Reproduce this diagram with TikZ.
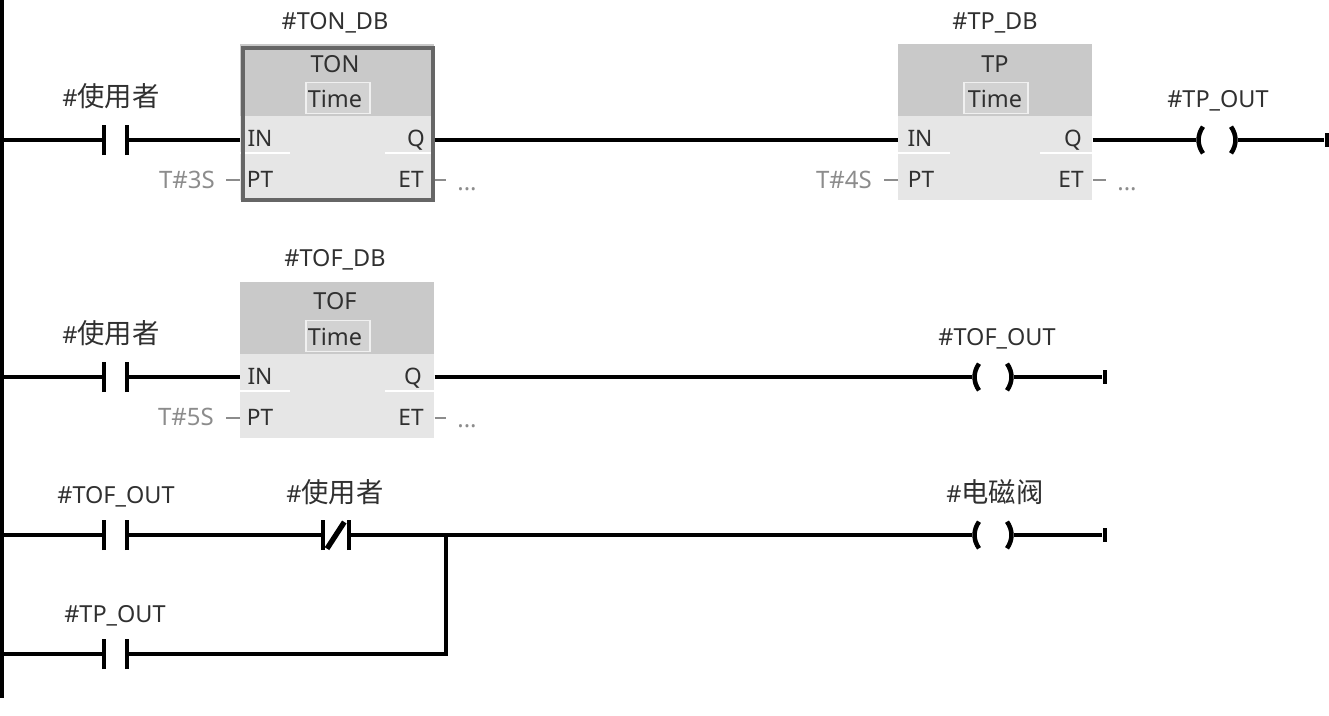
\documentclass[tikz,border=0pt]{standalone}
\usepackage{fontspec}
\setmainfont{Noto Sans}
\newfontfamily\cjk{Noto Sans CJK SC}
\newcommand{\cjkbig}[1]{{\cjk\fontsize{20.5pt}{22pt}\selectfont #1}}
\definecolor{ink}{HTML}{303030}
\definecolor{soft}{HTML}{8C8C8C}
\definecolor{head}{HTML}{C9C9C9}
\definecolor{body}{HTML}{E6E6E6}
\definecolor{frame}{HTML}{666666}
\tikzset{
  wire/.style={line width=3pt,black},
  thinwire/.style={line width=2.2pt,soft},
  txt/.style={inner sep=0pt,anchor=base,font=\fontsize{17.6pt}{20pt}\selectfont,text=ink},
  pin/.style={txt,font=\fontsize{17pt}{20pt}\selectfont},
  grey/.style={txt,text=soft,font=\fontsize{18pt}{20pt}\selectfont},
  nocontact/.style={minimum width=20.25pt,minimum height=22.5pt,inner sep=0pt,
    path picture={\draw[line width=3pt,black]
      ([xshift=1.5pt]path picture bounding box.south west)--([xshift=1.5pt]path picture bounding box.north west)
      ([xshift=-1.5pt]path picture bounding box.south east)--([xshift=-1.5pt]path picture bounding box.north east);}},
  nccontact/.style={minimum width=22.5pt,minimum height=22.5pt,inner sep=0pt,
    path picture={\draw[line width=3pt,black]
      ([xshift=1.5pt]path picture bounding box.south west)--([xshift=1.5pt]path picture bounding box.north west)
      ([xshift=-1.5pt]path picture bounding box.south east)--([xshift=-1.5pt]path picture bounding box.north east);
      \draw[line width=4pt,black]
      ([xshift=4.5pt,yshift=1pt]path picture bounding box.south west)--([xshift=-5pt,yshift=-1.5pt]path picture bounding box.north east);}},
  coil/.style={minimum width=31pt,minimum height=22pt,inner sep=0pt,
    path picture={\draw[line width=3.4pt,black]
      ([xshift=5pt,yshift=-1pt]path picture bounding box.north west) to[bend right=35] ([xshift=5pt,yshift=1pt]path picture bounding box.south west)
      ([xshift=-5pt,yshift=-1pt]path picture bounding box.north east) to[bend left=35] ([xshift=-5pt,yshift=1pt]path picture bounding box.south east);}},
  endbar/.style={minimum width=3pt,minimum height=10.5pt,inner sep=0pt,fill=black},
  fbbody/.style={minimum width=145.5pt,minimum height=117pt,inner sep=0pt,fill=body,anchor=north west},
  fbhead/.style={minimum width=145.5pt,minimum height=54pt,inner sep=0pt,fill=head,anchor=north west},
  timebox/.style={minimum width=48pt,minimum height=23.5pt,inner sep=0pt,fill=head!70!body,draw=body!60!white,line width=.8pt},
  sel/.style={draw=frame,line width=2.8pt},
}
\begin{document}
\begin{tikzpicture}[x=0.75pt,y=-0.75pt]
\useasboundingbox (0,0) rectangle (1329,715);
% power rail
\coordinate (railtop) at (2,0);
\coordinate (railend) at (2,698);
\draw[line width=3pt,black] (railtop)--(railend);
\coordinate (r1) at (2,140);
\coordinate (r2) at (2,377);
\coordinate (r3) at (2,535);
\coordinate (r4) at (2,654);

% blocks
\node[fbbody] (ton) at (240,44) {};
\node[fbhead] (tonh) at (240,44) {};
\node[fbbody] (tp) at (898,44) {};
\node[fbhead] (tph) at (898,44) {};
\node[fbbody] (tof) at (240,282) {};
\node[fbhead] (tofh) at (240,282) {};
\draw[white,line width=1.2pt] (240,153)--(290,153) (385,153)--(434,153);
\draw[white,line width=1.2pt] (898,153)--(950,153) (1040,153)--(1093,153);
\draw[white,line width=1.2pt] (240,391)--(290,391) (385,391)--(434,391);
\node[sel,minimum width=142.5pt,minimum height=114pt,inner sep=0pt,anchor=north west] (tonsel) at (241,46) {};

\node[timebox] (tont) at (338,98) {};
\node[timebox] (tpt) at (996,98) {};
\node[timebox] (toft) at (338,336) {};

% block titles and pins
\node[txt] (tonname) at (335,29) {\#TON\_DB};
\node[txt] (tontype) at (335,72) {TON};
\node[txt] (tontime) at (335,107) {Time};
\node[pin] (tonin) at (260,146) {IN};
\node[pin] (tonq) at (416,146) {Q};
\node[pin] (tonpt) at (260,187) {PT};
\node[pin] (tonet) at (411,187) {ET};

\node[txt] (tpname) at (995,29) {\#TP\_DB};
\node[txt] (tptype) at (995,72) {TP};
\node[txt] (tptime) at (995,107) {Time};
\node[pin] (tpin) at (920,146) {IN};
\node[pin] (tpq) at (1073,146) {Q};
\node[pin] (tppt) at (921,187) {PT};
\node[pin] (tpet) at (1071,187) {ET};

\node[txt] (tofname) at (335,266) {\#TOF\_DB};
\node[txt] (toftype) at (335,309) {TOF};
\node[txt] (toftime) at (335,345) {Time};
\node[pin] (tofin) at (260,384) {IN};
\node[pin] (tofq) at (413,384) {Q};
\node[pin] (tofpt) at (260,425) {PT};
\node[pin] (tofet) at (411,425) {ET};

% parameters
\node[grey] (t3s) at (187,188) {T\#3S};
\node[grey] (t4s) at (844,188) {T\#4S};
\node[grey] (t5s) at (186,425) {T\#5S};
\node[grey] (dots1) at (467,190) {...};
\node[grey] (dots2) at (1127,190) {...};
\node[grey] (dots3) at (467,427) {...};
\coordinate (t3e) at (226,180);
\coordinate (t4e) at (884,180);
\coordinate (t5e) at (226,418);
\coordinate (d1w) at (446,180);
\coordinate (d2w) at (1106,180);
\coordinate (d3w) at (446,418);
\draw[thinwire] (t3e)--(ton.west|-t3e);
\draw[thinwire] (t4e)--(tp.west|-t4e);
\draw[thinwire] (t5e)--(tof.west|-t5e);
\draw[thinwire] (ton.east|-d1w)--(d1w);
\draw[thinwire] (tp.east|-d2w)--(d2w);
\draw[thinwire] (tof.east|-d3w)--(d3w);

% contacts
\node[nocontact] (c1) at (115.5,140) {};
\node[nocontact] (c2) at (115.5,377) {};
\node[nocontact] (c3) at (115.5,535) {};
\node[nocontact] (c4) at (115.5,654) {};
\node[nccontact] (c5) at (336,535) {};
\node[txt] (l1) at (111,106) {\#\cjkbig{使用者}};
\node[txt] (l2) at (111,343) {\#\cjkbig{使用者}};
\node[txt] (l3) at (116,503) {\#TOF\_OUT};
\node[txt] (l5) at (335,502) {\#\cjkbig{使用者}};
\node[txt] (l4) at (115,622) {\#TP\_OUT};

% coils
\node[coil] (k1) at (1217,140) {};
\node[coil] (k2) at (993,377) {};
\node[coil] (k3) at (993,535) {};
\node[txt] (kl1) at (1218,107) {\#TP\_OUT};
\node[txt] (kl2) at (997,345) {\#TOF\_OUT};
\node[txt] (kl3) at (995,502) {\#\cjkbig{电磁阀}};
\node[endbar,anchor=east] (e1) at (1329,140) {};
\node[endbar,anchor=east] (e2) at (1107,377) {};
\node[endbar,anchor=east] (e3) at (1107,535) {};

% rungs
\draw[wire] (r1)--(c1.west);
\draw[wire] (c1.east)--(ton.west|-r1);
\draw[wire] (ton.east|-r1)--(tp.west|-r1);
\draw[wire] (tp.east|-r1)--(k1.west);
\draw[wire] (k1.east)--(e1.west);
\draw[wire] (r2)--(c2.west);
\draw[wire] (c2.east)--(tof.west|-r2);
\draw[wire] (tof.east|-r2)--(k2.west);
\draw[wire] (k2.east)--(e2.west);
\draw[wire] (r3)--(c3.west);
\draw[wire] (c3.east)--(c5.west);
\draw[wire] (c5.east)--(k3.west);
\draw[wire] (k3.east)--(e3.west);
\draw[wire] (r4)--(c4.west);
\coordinate (join) at (446,535);
\draw[wire,line join=miter] (c4.east)-|(join);
\end{tikzpicture}
\end{document}
